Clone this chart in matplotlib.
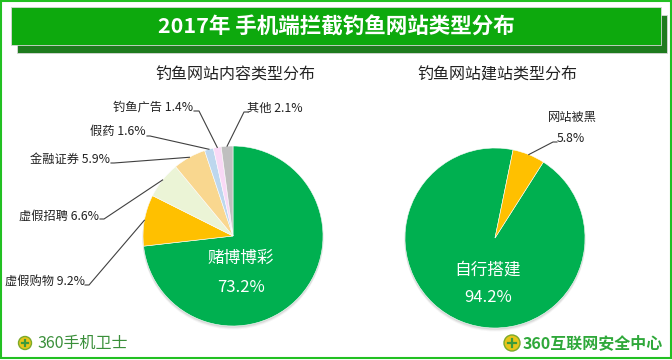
import numpy as np
import matplotlib
matplotlib.use("Agg")
import matplotlib.pyplot as plt
from matplotlib.patches import Rectangle, Circle

plt.rcParams['font.family'] = ['Noto Sans CJK SC', 'DejaVu Sans']

title = "2017年 手机端拦截钓鱼网站类型分布"

content_title = "钓鱼网站内容类型分布"
content_labels = ["赌博博彩", "虚假购物", "虚假招聘", "金融证券", "假药", "钓鱼广告", "其他"]
content_values = [73.2, 9.2, 6.6, 5.9, 1.6, 1.4, 2.1]
content_colors = ["#00B050", "#FFC000", "#EBF4D6", "#F9D78F", "#BDD7EE", "#F9D9F6", "#BFBFBF"]

build_title = "钓鱼网站建站类型分布"
build_labels = ["自行搭建", "网站被黑"]
build_values = [94.2, 5.8]
build_colors = ["#00B050", "#FFC000"]

W, H = 672, 360


def Y(y):
    # image coords (y down) -> axes coords (y up)
    return H - y


fig = plt.figure(figsize=(W / 100, H / 100), dpi=100)
ax = fig.add_axes([0, 0, 1, 1])

# frame and title banner
ax.add_patch(Rectangle((1, Y(358)), 670, 357, fill=False, edgecolor="#22C022", lw=1.5))
ax.add_patch(Rectangle((17, Y(53)), 650, 38, facecolor="#1E7B1E", edgecolor="#d8d8d8", lw=0.6))
ax.add_patch(Rectangle((11, Y(45)), 650, 38, facecolor="#0DA90D", edgecolor="#d8d8d8", lw=0.6))
ax.text(336, Y(26), title, color="white", fontsize=15.5, fontweight="bold",
        ha="center", va="center")


def draw_pie(values, colors, center, radius, startangle):
    cx, cy = center
    # soft shadow under the pie
    for k, a in [(3, 0.05), (2, 0.08), (1, 0.12)]:
        ax.add_patch(Circle((cx, Y(cy) - k), radius + 0.5, color="#555555", alpha=a, lw=0))
    wedges, _ = ax.pie(values, colors=colors, startangle=startangle, counterclock=False,
                       center=(cx, Y(cy)), radius=radius,
                       wedgeprops=dict(edgecolor="white", linewidth=0.4))
    return wedges


def edge_point(w):
    ang = np.deg2rad((w.theta1 + w.theta2) / 2)
    return w.center[0] + w.r * np.cos(ang), w.center[1] + w.r * np.sin(ang)


# left pie
lw_ = draw_pie(content_values, content_colors, (233, 236), 90, 90)
ax.text(235, Y(75), content_title, fontsize=11.5, ha="center", va="center", color="#222222")
ax.text(241, Y(258), content_labels[0], fontsize=12, color="white", ha="center", va="center")
ax.text(241, Y(287), "%.1f%%" % content_values[0], fontsize=12, color="white",
        ha="center", va="center")

# (text x, text y, elbow x, elbow y, end x, anchor)
label_pos = {
    1: (85, 281, 89, 285, 85, "right"),
    2: (99, 216, 104, 219, 100, "right"),
    3: (110, 159, 114, 163, 111, "right"),
    4: (146, 131, 150, 136, 147, "right"),
    5: (193, 107, 199, 111, 194, "right"),
    6: (247, 108, 244, 112, 248, "left"),
}
for i, (tx, ty, ex, ey, endx, side) in label_pos.items():
    px, py = edge_point(lw_[i])
    ax.plot([px, ex, endx], [py, Y(ey), Y(ey)], color="#404040", lw=0.8)
    ax.text(tx, Y(ty), "%s %.1f%%" % (content_labels[i], content_values[i]),
            fontsize=8.8, ha=side, va="center", color="#222222")

# right pie: small wedge sits just right of 12 o'clock
rw = draw_pie(build_values, build_colors, (495, 238), 90,
              90 - 11.6 - 360 * build_values[1] / 100)
ax.text(497, Y(75), build_title, fontsize=11.5, ha="center", va="center", color="#222222")
ax.text(488, Y(270), build_labels[0], fontsize=12, color="white", ha="center", va="center")
ax.text(488, Y(298), "%.1f%%" % build_values[0], fontsize=12, color="white",
        ha="center", va="center")
px, py = edge_point(rw[1])
ax.plot([px, 553, 557], [py, Y(142), Y(142)], color="#404040", lw=0.8)
ax.text(572, Y(117), build_labels[1], fontsize=8.8, ha="center", va="center", color="#222222")
ax.text(557, Y(139), "%.1f%%" % build_values[1], fontsize=8.8, ha="left", va="center",
        color="#222222")

# footer logos
for (x, r) in [(25, 6.5), (512, 8)]:
    ax.add_patch(Circle((x, Y(343)), r, facecolor="#E8C51A", edgecolor="#7BAA2A", lw=1))
    ax.plot([x - r * 0.5, x + r * 0.5], [Y(343), Y(343)], color="#3C9A3C", lw=1.6)
    ax.plot([x, x], [Y(343) - r * 0.5, Y(343) + r * 0.5], color="#3C9A3C", lw=1.6)
ax.text(37, Y(343), "360手机卫士", fontsize=11.5, fontweight="medium", color="#3A8F3A",
        ha="left", va="center")
ax.text(523, Y(343), "360互联网安全中心", fontsize=11.5, fontweight="bold", color="#2FA83A",
        ha="left", va="center")

ax.set_xlim(0, W)
ax.set_ylim(0, H)
ax.set_aspect("equal")
ax.axis("off")

fig.savefig("out.png", dpi=100)
